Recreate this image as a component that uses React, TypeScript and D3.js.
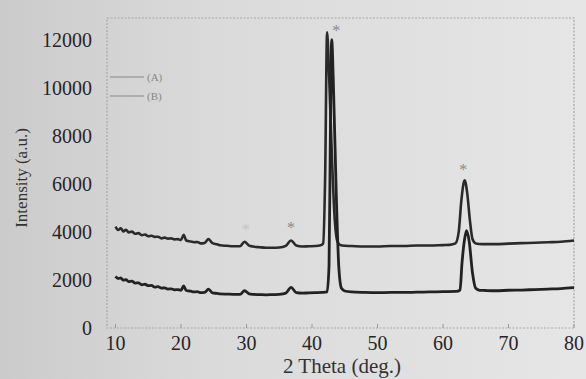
import React from 'react';
import * as d3 from 'd3';

// XRD patterns
const seriesA: [number, number][] = [
  [10, 4220], [10.4, 4080], [10.8, 4150], [11.2, 4020], [11.6, 4090], [12, 3980], [12.5, 4010],
  [13, 3920], [13.5, 3950], [14, 3860], [14.5, 3890], [15, 3820], [15.5, 3840], [16, 3790],
  [16.5, 3800], [17, 3730], [17.5, 3760], [18, 3720], [18.5, 3730], [19, 3690], [19.5, 3700],
  [20, 3660], [20.4, 3880], [20.8, 3640], [21.5, 3600], [22, 3570], [22.5, 3580], [23, 3520],
  [23.6, 3540], [24.2, 3700], [24.8, 3530], [25.5, 3480], [26, 3440], [27, 3420], [28, 3400],
  [29, 3400], [29.7, 3590], [30.4, 3430], [31, 3390], [32, 3360], [33, 3340], [34, 3340],
  [35, 3350], [36, 3420], [36.8, 3640], [37.6, 3430], [38.5, 3390], [39.5, 3400], [40.5, 3410],
  [41.3, 3440], [41.7, 3520], [42.0, 6200], [42.3, 12300], [42.6, 10600], [43.0, 7400],
  [43.5, 4400], [43.9, 3580], [44.4, 3440], [45, 3420], [46, 3410], [48, 3390], [50, 3390],
  [52, 3410], [54, 3410], [56, 3430], [58, 3430], [60, 3450], [61, 3460], [61.9, 3520],
  [62.4, 4000], [62.8, 5300], [63.3, 6150], [63.7, 5600], [64.1, 4500], [64.5, 3700],
  [65.0, 3520], [66, 3490], [68, 3490], [70, 3510], [72, 3530], [74, 3550], [76, 3570],
  [78, 3590], [80, 3640],
];

const seriesB: [number, number][] = [
  [10, 2150], [10.4, 2060], [10.8, 2080], [11.2, 1990], [11.6, 2010], [12, 1930], [12.5, 1950],
  [13, 1870], [13.5, 1880], [14, 1800], [14.5, 1820], [15, 1760], [15.5, 1770], [16, 1700],
  [16.5, 1720], [17, 1660], [17.5, 1670], [18, 1620], [18.5, 1630], [19, 1590], [19.5, 1600],
  [20, 1570], [20.4, 1750], [20.8, 1560], [21.5, 1530], [22, 1500], [22.5, 1510], [23, 1470],
  [23.6, 1480], [24.2, 1620], [24.8, 1460], [25.5, 1440], [26, 1420], [27, 1410], [28, 1400],
  [29, 1400], [29.7, 1550], [30.4, 1420], [31, 1400], [32, 1390], [33, 1380], [34, 1390],
  [35, 1400], [36, 1450], [36.8, 1690], [37.6, 1470], [38.5, 1450], [39.5, 1460], [40.5, 1470],
  [41.5, 1480], [42.3, 1500], [42.6, 2600], [42.8, 8000], [43.0, 12000], [43.3, 9800],
  [43.7, 5600], [44.1, 2500], [44.5, 1650], [45, 1540], [46, 1500], [48, 1480],
  [50, 1470], [52, 1480], [54, 1480], [56, 1490], [58, 1500], [60, 1510], [62, 1520],
  [62.6, 1580], [62.9, 2700], [63.3, 3700], [63.6, 4050], [64.0, 3600], [64.5, 2300],
  [65.0, 1650], [65.6, 1570], [66.5, 1560], [68, 1550], [70, 1570], [72, 1580], [74, 1600],
  [76, 1620], [78, 1640], [80, 1680],
];

const xTicks = [10, 20, 30, 40, 50, 60, 70, 80];
const yTicks = [0, 2000, 4000, 6000, 8000, 10000, 12000];
const starX = [29.9, 36.8, 43.7, 63.1];
const starY = [4200, 4300, 12500, 6700];
const legendLabels = ['(A)', '(B)'];

export default function App() {
  const W = 586, H = 379;
  const left = 107, right = 574, top = 18, bottom = 328;
  const x = d3.scaleLinear().domain([8.7, 80]).range([left, right]);
  const y = d3.scaleLinear().domain([0, 12900]).range([bottom, top]);
  const line = d3.line<[number, number]>().x(d => x(d[0])).y(d => y(d[1])).curve(d3.curveMonotoneX);
  const font = '"Liberation Serif", "DejaVu Serif", serif';

  return (
    <svg width={W} height={H} style={{ position: 'fixed', left: 0, top: 0 }} fontFamily={font}>
      <defs>
        <linearGradient id="bg" x1="0" x2="1" y1="0" y2="0">
          <stop offset="0" stopColor="#cbcbcb" />
          <stop offset="0.35" stopColor="#dadada" />
          <stop offset="1" stopColor="#e6e6e6" />
        </linearGradient>
      </defs>
      <rect width={W} height={H} fill="url(#bg)" />

      {/* frame */}
      <rect x={left} y={top} width={right - left} height={bottom - top}
        fill="none" stroke="#a8a8a8" strokeWidth={1.2} strokeDasharray="2,1.5" />

      {/* x ticks */}
      {xTicks.map(t => (
        <g key={t}>
          <line x1={x(t)} x2={x(t)} y1={bottom} y2={bottom - 4} stroke="#999" />
          <text x={x(t)} y={bottom + 22} textAnchor="middle" fontSize={20} fill="#262626">{t}</text>
        </g>
      ))}
      {/* y ticks */}
      {yTicks.map(t => (
        <text key={t} x={left - 15} y={y(t) + 7} textAnchor="end" fontSize={20} fill="#262626">{t}</text>
      ))}

      <text x={342} y={373} textAnchor="middle" fontSize={21} fill="#333">2 Theta (deg.)</text>
      <text transform={`translate(27,${(top + bottom) / 2 + 5}) rotate(-90)`} textAnchor="middle"
        fontSize={17} fill="#333">Intensity (a.u.)</text>

      {/* legend */}
      {legendLabels.map((l, i) => (
        <g key={l} transform={`translate(110,${77 + i * 19})`}>
          <line x1={0} x2={34} y1={0} y2={0} stroke="#888" strokeWidth={1.2} />
          <text x={37} y={4} fontSize={11} fill="#888">{l}</text>
        </g>
      ))}

      {/* stars */}
      {starX.map((s, i) => (
        <text key={i} x={x(s)} y={y(starY[i]) + 8} textAnchor="middle" fontSize={16}
          fill={i === 0 ? '#c4c4c4' : '#8a8a8a'}>*</text>
      ))}

      <path d={line(seriesA) || ''} fill="none" stroke="#2a2a2a" strokeWidth={2.6} strokeLinejoin="round" />
      <path d={line(seriesB) || ''} fill="none" stroke="#222" strokeWidth={2.8} strokeLinejoin="round" />
    </svg>
  );
}
